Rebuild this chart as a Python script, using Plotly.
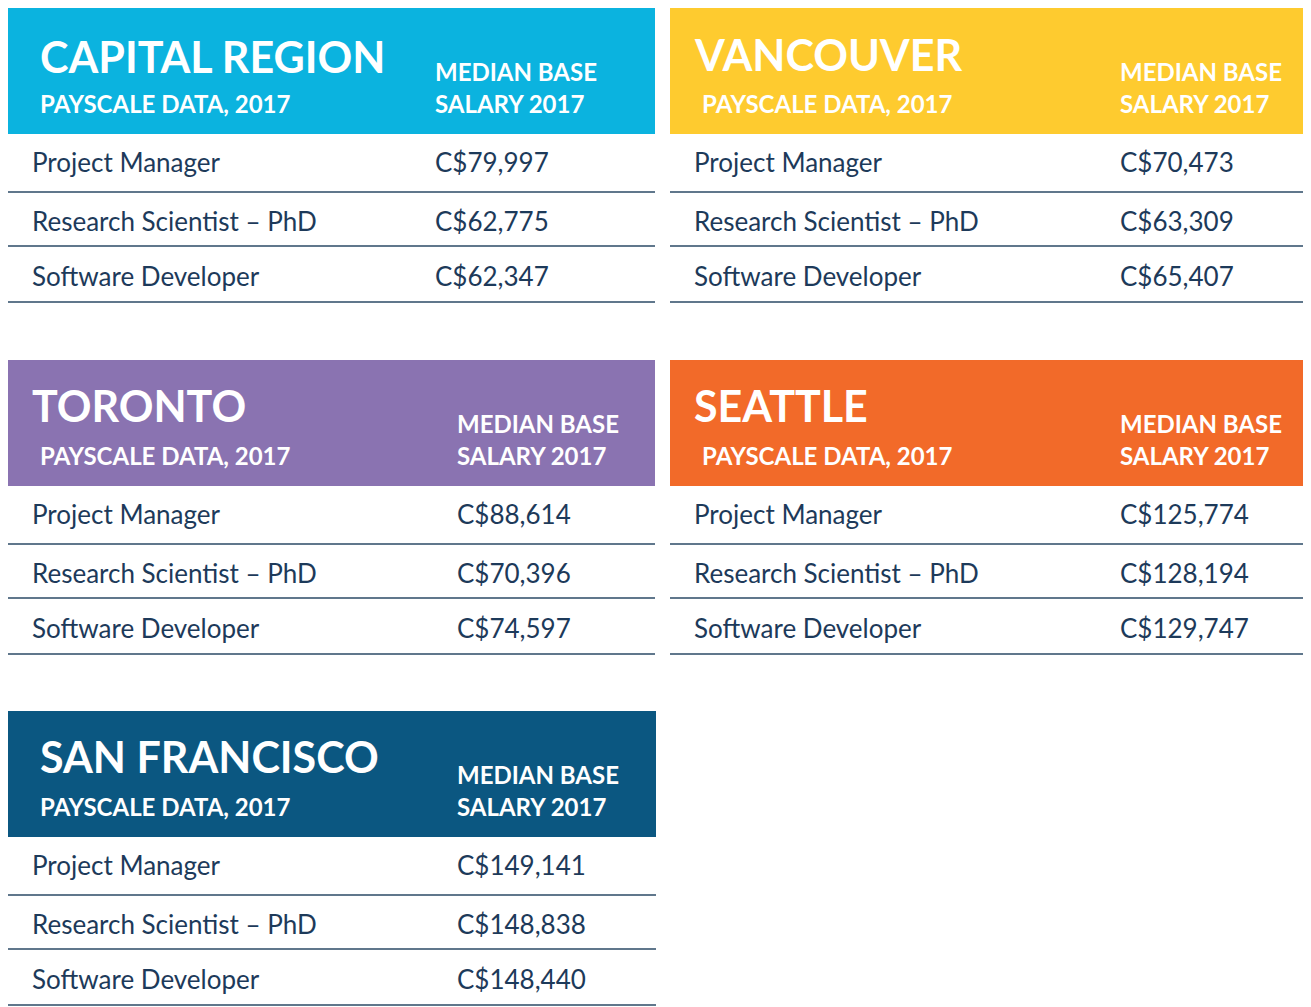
import plotly.graph_objects as go

cities = ["CAPITAL REGION", "VANCOUVER", "TORONTO", "SEATTLE", "SAN FRANCISCO"]
colors = ["#0bb3df", "#fecb2f", "#8a73b1", "#f26a29", "#0b5781"]
jobs = ["Project Manager", "Research Scientist – PhD", "Software Developer"]
salaries = [
    ["C$79,997", "C$62,775", "C$62,347"],
    ["C$70,473", "C$63,309", "C$65,407"],
    ["C$88,614", "C$70,396", "C$74,597"],
    ["C$125,774", "C$128,194", "C$129,747"],
    ["C$149,141", "C$148,838", "C$148,440"],
]
subtitle = "PAYSCALE DATA, 2017"
col_head = ["MEDIAN BASE", "SALARY 2017"]

# panel geometry (x0, x1, top, value column x, title x, subtitle x, title y offset)
panels = [
    (0, 647, 0, 425, 30, 30, 48),
    (662, 1311, 0, 1110, 684, 692, 46),
    (0, 647, 352, 447, 22, 30, 45),
    (662, 1311, 352, 1110, 684, 692, 45),
    (0, 648, 703, 447, 30, 30, 45),
]

NAVY = "#1d3a5a"
shapes, ann = [], []
for i, (x0, x1, top, vx, tx, sx, ty) in enumerate(panels):
    shapes.append(dict(type="rect", x0=x0, x1=x1, y0=top, y1=top + 126,
                       fillcolor=colors[i], line_width=0, layer="below"))
    for ly in (184, 238, 294):
        shapes.append(dict(type="line", x0=x0, x1=x1, y0=top + ly, y1=top + ly,
                           line=dict(color="#2b4a66", width=1.3)))
    ann.append(dict(x=tx, y=top + ty, text=f"<b>{cities[i]}</b>", xanchor="left",
                    yanchor="middle", font=dict(size=43, color="white")))
    ann.append(dict(x=sx, y=top + 95, text=f"<b>{subtitle}</b>", xanchor="left",
                    yanchor="middle", font=dict(size=24, color="white")))
    ann.append(dict(x=vx, y=top + 63, text=f"<b>{col_head[0]}</b>", xanchor="left",
                    yanchor="middle", font=dict(size=24, color="white")))
    ann.append(dict(x=vx, y=top + 95, text=f"<b>{col_head[1]}</b>", xanchor="left",
                    yanchor="middle", font=dict(size=24, color="white")))
    for j, ry in enumerate((154, 213, 268)):
        ann.append(dict(x=x0 + 22, y=top + ry, text=jobs[j], xanchor="left",
                        yanchor="middle", font=dict(size=26, color=NAVY)))
        ann.append(dict(x=vx, y=top + ry, text=salaries[i][j], xanchor="left",
                        yanchor="middle", font=dict(size=26, color=NAVY)))

fig = go.Figure()
fig.update_layout(
    width=1311, height=1007, margin=dict(l=0, r=0, t=0, b=0),
    paper_bgcolor="white", plot_bgcolor="white",
    xaxis=dict(range=[0, 1311], visible=False, fixedrange=True),
    yaxis=dict(range=[1007, 0], visible=False, fixedrange=True),
    shapes=shapes, annotations=ann, showlegend=False,
    font=dict(family="Lato, sans-serif"),
)
for a in fig.layout.annotations:
    a.showarrow = False
fig.write_html("out.html")
